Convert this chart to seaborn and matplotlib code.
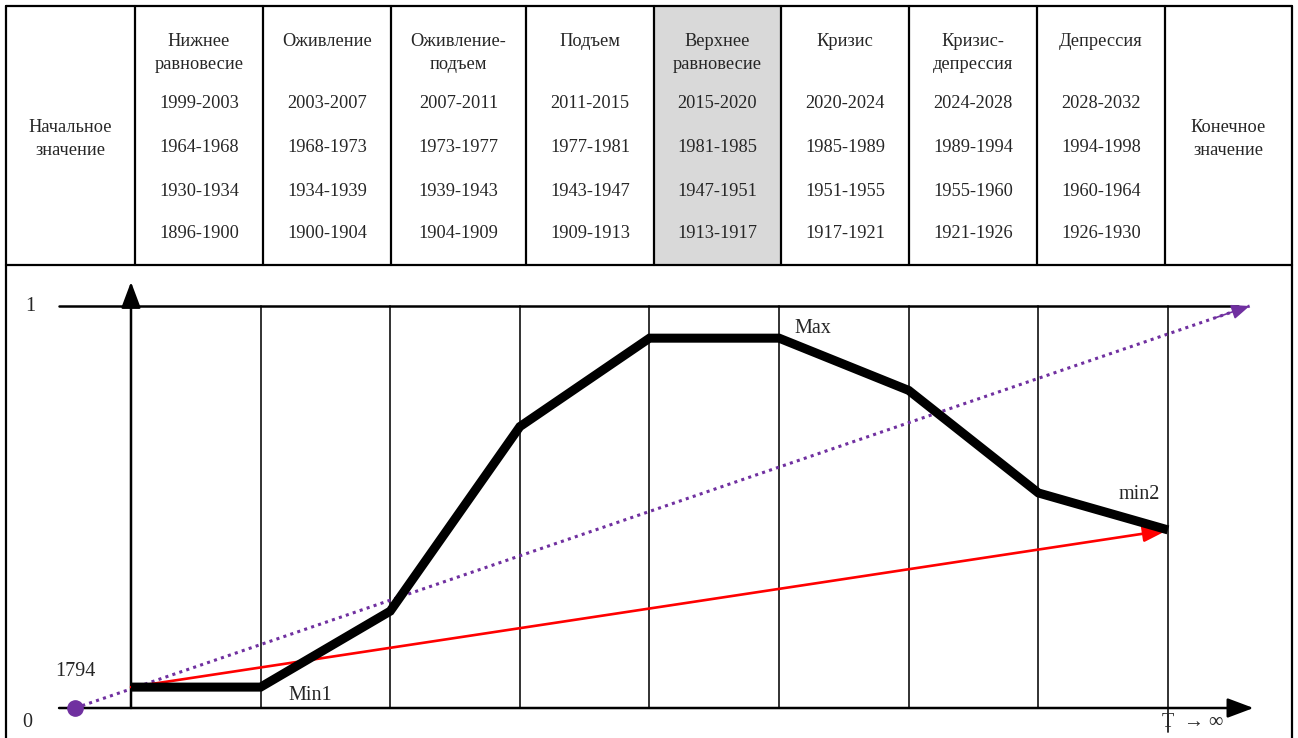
import numpy as np
import pandas as pd
import seaborn as sns
import matplotlib.pyplot as plt

# ---- data ----
phases = ["Нижнее\nравновесие", "Оживление", "Оживление-\nподъем", "Подъем",
          "Верхнее\nравновесие", "Кризис", "Кризис-\nдепрессия", "Депрессия"]
years_2000 = ["1999-2003", "2003-2007", "2007-2011", "2011-2015",
              "2015-2020", "2020-2024", "2024-2028", "2028-2032"]
years_1960 = ["1964-1968", "1968-1973", "1973-1977", "1977-1981",
              "1981-1985", "1985-1989", "1989-1994", "1994-1998"]
years_1930 = ["1930-1934", "1934-1939", "1939-1943", "1943-1947",
              "1947-1951", "1951-1955", "1955-1960", "1960-1964"]
years_1900 = ["1896-1900", "1900-1904", "1904-1909", "1909-1913",
              "1913-1917", "1917-1921", "1921-1926", "1926-1930"]
first_col = "Начальное\nзначение"
last_col = "Конечное\nзначение"

boundary = [0, 1, 2, 3, 4, 5, 6, 7, 8]
cycle = [0.052, 0.052, 0.241, 0.70, 0.92, 0.92, 0.79, 0.535, 0.443]
trend_x = [-0.43, 8.63]
trend_y = [0.0, 1.0]
base_x = [0, 8]
base_y = [0.052, 0.443]

sns.set_style("white")
plt.rcParams['font.family'] = ['Liberation Serif', 'DejaVu Serif']

fig = plt.figure(figsize=(12.98, 7.38), dpi=100)

# ---- table (pixel coords) ----
tab = fig.add_axes([0, 0, 1, 1])
tab.set_xlim(0, 1298)
tab.set_ylim(738, 0)
tab.axis("off")

cols = [6, 135, 263, 391, 526, 654, 781, 909, 1037, 1165, 1292]
tab.fill_between([cols[5], cols[6]], 6, 265, color="#d9d9d9", lw=0)
for c in cols:
    tab.plot([c, c], [6, 265], color="black", lw=1.6)
tab.plot([6, 1292], [6, 6], color="black", lw=1.6)
tab.plot([6, 1292], [265, 265], color="black", lw=1.6)
# outer frame of the graph part
tab.plot([6, 6], [265, 738], color="black", lw=1.6)
tab.plot([1292, 1292], [265, 738], color="black", lw=1.6)

fs = 13.2
tab.text((cols[0] + cols[1]) / 2, 139, first_col, ha="center", va="center",
         fontsize=fs, linespacing=1.45)
tab.text((cols[9] + cols[10]) / 2, 139, last_col, ha="center", va="center",
         fontsize=fs, linespacing=1.45)
for i, name in enumerate(phases):
    cx = (cols[i + 1] + cols[i + 2]) / 2
    tab.text(cx, 33, name, ha="center", va="top", fontsize=fs, linespacing=1.45)
    for y, lab in zip([104, 148, 191, 234],
                      [years_2000[i], years_1960[i], years_1930[i], years_1900[i]]):
        tab.text(cx, y, lab, ha="center", va="center", fontsize=fs)

# ---- graph ----
ax = fig.add_axes([0, 0, 1, (738 - 265) / 738])
ax.patch.set_alpha(0)

for b in boundary[1:]:
    ax.plot([b, b], [0, 1], color="#222222", lw=1.3)
ax.plot([8, 8], [-0.06, 0], color="#222222", lw=1.3)
ax.plot([-0.555, 8.54], [1, 1], color="black", lw=1.8)

# axes with arrows
ax.annotate("", xy=(8.66, 0), xytext=(-0.555, 0),
            arrowprops=dict(arrowstyle="-|>,head_length=1.6,head_width=0.6",
                            color="black", lw=1.8, shrinkA=0, shrinkB=0))
ax.annotate("", xy=(0, 1.06), xytext=(0, 0),
            arrowprops=dict(arrowstyle="-|>,head_length=1.6,head_width=0.6",
                            color="black", lw=1.8, shrinkA=0, shrinkB=0))

# purple dotted trend
sns.lineplot(x=trend_x, y=trend_y, ax=ax, color="#7030a0", lw=2.2,
             linestyle=(0, (1, 1.4)))
dx = trend_x[1] - trend_x[0]
dy = trend_y[1] - trend_y[0]
ax.annotate("", xy=(trend_x[1], trend_y[1]),
            xytext=(trend_x[1] - 0.03 * dx, trend_y[1] - 0.03 * dy),
            arrowprops=dict(arrowstyle="-|>,head_length=1.1,head_width=0.45",
                            color="#7030a0", lw=1.2, shrinkA=0, shrinkB=0))
ax.plot(trend_x[0], trend_y[0], "o", color="#7030a0", ms=11, zorder=5)

# red base line
ax.annotate("", xy=(base_x[1], base_y[1]), xytext=(base_x[0], base_y[0]),
            arrowprops=dict(arrowstyle="-|>,head_length=1.5,head_width=0.5",
                            color="red", lw=1.9, shrinkA=0, shrinkB=0))

df = pd.DataFrame({"x": boundary, "y": cycle})
sns.lineplot(data=df, x="x", y="y", ax=ax, color="black", lw=6.5,
             solid_joinstyle="miter", solid_capstyle="butt", zorder=4)
ax.set_xlim(-1.0106, 9.003)
ax.set_ylim(-0.0746, 1.102)
ax.axis("off")

fs2 = 14.5
ax.text(-0.78, 1.0, "1", ha="center", va="center", fontsize=fs2)
ax.text(-0.80, -0.035, "0", ha="center", va="center", fontsize=fs2)
ax.text(-0.43, 0.09, "1794", ha="center", va="center", fontsize=fs2)
ax.text(1.38, 0.03, "Min1", ha="center", va="center", fontsize=fs2)
ax.text(5.26, 0.945, "Max", ha="center", va="center", fontsize=fs2)
ax.text(7.78, 0.53, "min2", ha="center", va="center", fontsize=fs2)
ax.text(7.95, -0.035, "T  → ∞", ha="left", va="center", fontsize=fs2)

fig.savefig("out.png", dpi=100)
